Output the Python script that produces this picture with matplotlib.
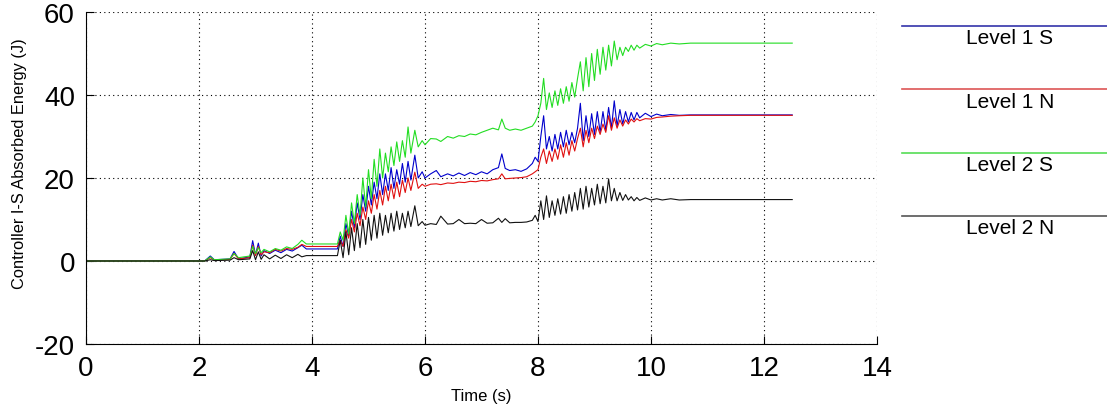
import numpy as np
import matplotlib
matplotlib.use("Agg")
import matplotlib.pyplot as plt
from matplotlib.lines import Line2D

plt.rcParams["font.family"] = ["Liberation Sans", "DejaVu Sans"]
plt.rcParams["axes.unicode_minus"] = False

# shared time base (s)
time_s = [
    0, 2.1, 2.2, 2.27, 2.55, 2.62, 2.7, 2.9, 2.95, 3.0, 3.05, 3.1, 3.15, 3.25, 3.35, 3.45, 3.55, 3.65, 3.75, 3.82, 3.9, 4.45,
    4.5, 4.55, 4.6, 4.65, 4.7, 4.75, 4.8, 4.85, 4.9, 4.95, 5.0, 5.05, 5.1, 5.15, 5.2, 5.25, 5.3, 5.35, 5.4, 5.45, 5.5, 5.55,
    5.6, 5.65, 5.7, 5.75, 5.82, 5.88, 5.95,
    6.0, 6.1, 6.2, 6.28, 6.4, 6.5, 6.6, 6.7, 6.8, 6.9, 7.0, 7.1, 7.2, 7.3, 7.36, 7.42, 7.5, 7.6, 7.7, 7.8, 7.9, 7.95,
    8.0, 8.05, 8.1, 8.15, 8.2, 8.25, 8.3, 8.35, 8.4, 8.45, 8.5, 8.55, 8.6, 8.65, 8.7, 8.75, 8.8, 8.85, 8.9, 8.95,
    9.0, 9.05, 9.1, 9.15, 9.2, 9.25, 9.3, 9.35, 9.4, 9.45, 9.5, 9.55, 9.6, 9.65, 9.7, 9.75, 9.8,
    9.9, 10.0, 10.1, 10.2, 10.35, 10.5, 10.7, 12.5,
]

level1_s = [
    0, 0, 1.2, 0.3, 0.5, 2.3, 0.5, 1.0, 4.9, 1.5, 4.3, 1.2, 2.5, 1.8, 2.6, 2.0, 2.8, 2.4, 3.2, 3.8, 2.9, 2.9,
    6, 3.5, 9, 6, 12, 8, 14, 10, 16, 12, 18, 13.5, 19, 15, 21, 16, 21, 17, 22.5, 17.5, 22, 18.5, 23.5, 19, 24, 19.5,
    25.5, 20, 21.5,
    20, 21, 21.8, 20.3, 21, 20.5, 21.2, 20.6, 21.3, 20.8, 21.5, 21, 22, 22.5, 25.8, 22.3, 21.8, 22, 21.6, 22.2, 23.5, 25,
    24, 30, 35, 27, 30, 26.5, 30.5, 27, 31, 27.5, 31.5, 28, 31, 28.5, 32, 38, 29, 35, 30, 35.5,
    30.5, 36, 31, 36, 31.5, 37, 32, 38.6, 32.5, 36.5, 33, 36, 33.5, 35.8, 34, 35.8, 34.5,
    35.6, 34.8, 35.4, 35, 35.3, 35.1, 35.2, 35.2,
]

level1_n = [
    0, 0, 0.8, 0.2, 0.4, 1.8, 0.5, 0.8, 3.8, 1.3, 3.5, 1.5, 2.2, 2.0, 2.8, 2.4, 3.0, 2.8, 3.3, 4.0, 3.5, 3.5,
    5, 3.5, 7.5, 5.5, 10, 7, 11.5, 8.5, 13, 10, 14.5, 11.5, 16, 12.5, 17, 13.5, 18, 14.5, 18.5, 15, 19, 15.5, 19.5, 16.5,
    20, 17, 21.4, 17.5, 18.5,
    18, 18.5, 18.6, 18.4, 18.8, 18.7, 19, 18.9, 19.2, 19.1, 19.4, 19.3, 19.6, 19.8, 21, 19.8, 19.9, 20, 20.1, 20.3, 21, 21.5,
    22, 25, 27, 23.5, 26.5, 24, 27, 24.5, 28, 25, 28.5, 25.5, 29, 26.5, 29.5, 32, 27.5, 31.5, 28.5, 32,
    29.5, 32.5, 30.5, 33, 31, 35, 31.5, 34.5, 32, 34, 32.5, 34, 33, 34.2, 33.5, 34.3, 33.8,
    34.3, 34.2, 34.6, 34.7, 34.9, 35, 35.1, 35.1,
]

level2_s = [
    0, 0, 1.0, 0.3, 0.5, 1.8, 0.8, 1.2, 3.5, 1.8, 3.2, 2.0, 2.8, 2.2, 3.0, 2.6, 3.4, 3.0, 4.0, 5.0, 4.1, 4.1,
    7, 5, 11, 6.5, 14, 9, 16, 11, 20, 13, 22, 15, 24.5, 18, 27, 20, 26, 21.5, 27.5, 23, 28.7, 24, 29, 25,
    32.3, 26, 31.5, 27.5, 29,
    28, 29.5, 29.4, 28.8, 30, 29.6, 30.2, 30, 30.6, 30.4, 31, 31.5, 32, 31.6, 34.2, 32, 31.5, 31.8, 31.5, 32, 32.5, 33.5,
    35, 38, 44, 36.5, 40.5, 37, 41, 37.5, 41.5, 38, 42, 38.5, 43, 39.5, 44, 48, 41, 49, 42, 50,
    43.5, 51, 45, 51.5, 46, 52, 47, 53, 48.5, 51.5, 49.5, 51.5, 50.5, 52, 50.8, 52, 51.3,
    52.2, 51.8, 52.4, 52.1, 52.5, 52.3, 52.5, 52.5,
]

level2_n = [
    0, 0, 0.3, 0.1, 0.2, 0.8, 0.3, 0.5, 2.5, 0.3, 2.2, 0.4, 1.5, 0.5, 1.4, 0.6, 1.5, 0.8, 1.6, 1.0, 1.3, 1.3,
    5, 0.8, 7, 1.5, 8, 2.5, 9, 3.2, 10, 4, 10.5, 5, 11, 5.5, 11.5, 6.2, 11, 6.8, 11.5, 7.2, 12, 7.6, 11.5, 8,
    12, 8.3, 13.3, 8.5, 9.5,
    8.6, 9, 8.8, 10.8, 8.9, 9, 10, 9, 9.1, 9, 10, 9.1, 9.2, 10.3, 9.3, 10.2, 9.2, 9.3, 9.3, 9.4, 9.8, 11,
    9.5, 14.5, 10, 15.7, 10.5, 14.5, 11, 15, 11.3, 15.5, 11.5, 16, 12, 16.5, 12.3, 17.5, 12.5, 18, 13, 17.5,
    13.5, 18.5, 13.8, 18, 14, 19.8, 14.5, 17.5, 14.5, 16.5, 14.6, 16, 14.7, 15.5, 14.5, 15.3, 14.6,
    15.2, 14.7, 15, 14.7, 15, 14.7, 14.8, 14.8,
]

labels = ["Level 1 S", "Level 1 N", "Level 2 S", "Level 2 N"]
series = [level1_s, level1_n, level2_s, level2_n]
colors = ["#0000cc", "#e01010", "#22dd22", "#111111"]
legend_colors = ["#3333aa", "#dd5555", "#55dd55", "#555555"]

fig = plt.figure(figsize=(11.07, 4.14), dpi=100)
ax = fig.add_axes([0.0777, 0.1667, 0.7145, 0.8019])

for vals, c in zip(series, colors):
    ax.plot(time_s, vals, color=c, lw=0.8)

ax.set_xlim(0, 14)
ax.set_ylim(-20, 60)
ax.set_xticks(np.arange(0, 15, 2))
ax.set_yticks([-20, 0, 20, 40, 60])
ax.tick_params(direction="in", length=6, labelsize=20, pad=8)
ax.grid(True, color="black", linestyle=(0, (1, 3)), linewidth=0.8)
ax.spines["top"].set_visible(False)
ax.spines["right"].set_visible(False)
ax.set_xlabel("Time (s)", fontsize=12, labelpad=5)
ax.set_ylabel("Controller I-S Absorbed Energy (J)", fontsize=11.8)
ax.yaxis.set_label_coords(-0.075, 0.545)

# legend drawn outside the axes: line with label centred underneath
line_y = [27, 90, 154, 217]
for lab, c, py in zip(labels, legend_colors, line_y):
    yf = 1 - py / 414
    fig.add_artist(Line2D([902 / 1107, 1.0], [yf, yf], color=c, lw=1.2, transform=fig.transFigure))
    fig.text(1010 / 1107, 1 - (py + 12) / 414, lab, ha="center", va="center", fontsize=15)

fig.savefig("out.png", dpi=100)
